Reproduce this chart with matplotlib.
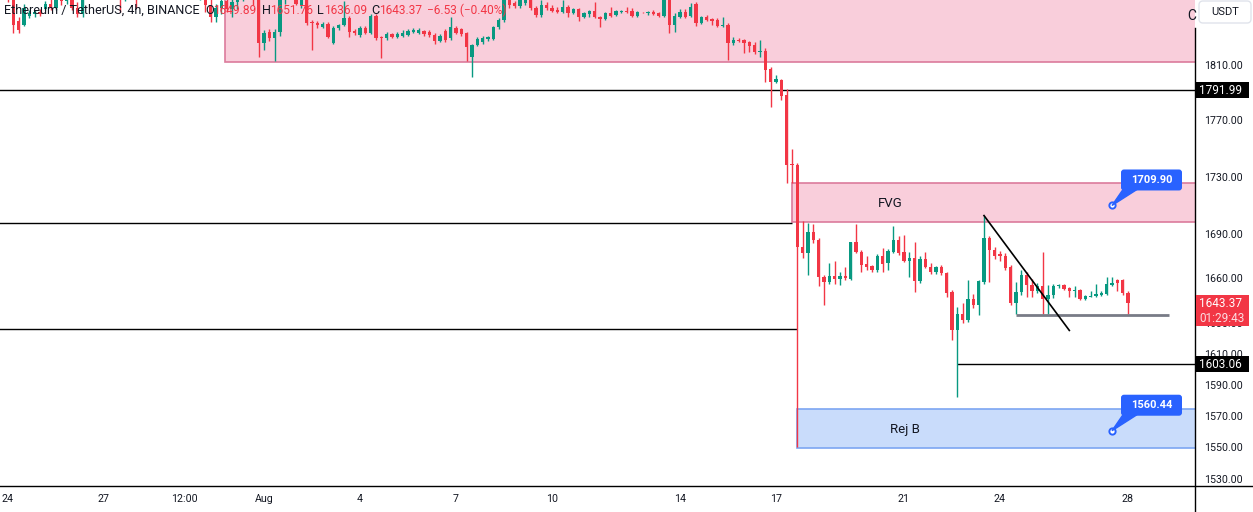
import matplotlib
matplotlib.use("Agg")
import matplotlib.pyplot as plt
import matplotlib.dates as mdates
import matplotlib.transforms as mtransforms
from matplotlib.patches import Rectangle, FancyBboxPatch, Polygon
from matplotlib.lines import Line2D
from matplotlib.ticker import FixedLocator, NullLocator
import pandas as pd

plt.rcParams['font.family'] = ['Roboto', 'DejaVu Sans']

# ETHUSDT 4h candles, 24 Jul -> 28 Aug
opens = [1874, 1862, 1843, 1840, 1847, 1848, 1850, 1852, 1856, 1853, 1864, 1858,
         1866, 1853, 1848, 1864, 1868, 1870, 1866, 1871, 1880, 1874, 1862, 1870,
         1875, 1866, 1872, 1878, 1884, 1880, 1876, 1879, 1882, 1877, 1870, 1873,
         1866, 1868, 1855, 1846, 1853, 1858, 1852, 1857, 1862, 1866, 1864, 1862,
         1826.6, 1834.6, 1830.2, 1834.6, 1860, 1868, 1865, 1855, 1862, 1842.4, 1841.4, 1838.4,
         1840.6, 1826.6, 1837.8, 1840, 1845.2, 1835.5, 1832.4, 1837.8, 1834, 1846.7, 1831, 1830.1,
         1833.1, 1830.8, 1831.6, 1832.4, 1834.8, 1834, 1835.5, 1834.8, 1832.4, 1828, 1835.5, 1830,
         1838, 1837, 1833.9, 1816.1, 1825.2, 1827.4, 1829.6, 1829.6, 1838.4, 1843.7, 1862, 1856.4,
         1854.2, 1856.4, 1860, 1852.7, 1847.5, 1855, 1852.7, 1851.2, 1849.7, 1853.5, 1849, 1852,
         1846, 1848.2, 1850.5, 1846, 1844.5, 1849, 1847.5, 1849.7, 1850.5, 1850.5, 1846.7, 1849.7,
         1849, 1849.7, 1849, 1846.7, 1862, 1840, 1846, 1849.7, 1846.7, 1855.7, 1841.4, 1846,
         1844.5, 1843.7, 1839.2, 1840, 1826.6, 1828.9, 1828.9, 1827.4, 1825.2, 1820, 1820.7, 1807.6,
         1798.1, 1799.6, 1788, 1738.9, 1738.4, 1681.5, 1676.9, 1691.3, 1685.8, 1661.1, 1657.7, 1661.8,
         1659.4, 1661.8, 1659.4, 1684.4, 1678.2, 1670, 1668.6, 1665.8, 1675.5, 1670.7, 1678.2, 1685.8,
         1677.6, 1672.1, 1673.6, 1658.1, 1672.9, 1668, 1664, 1667.5, 1663.4, 1650.7, 1625.3, 1636,
         1632, 1646.1, 1642, 1657.4, 1687.8, 1679.6, 1676.2, 1675.5, 1668, 1643.4, 1650.7, 1662,
         1655.4, 1651.4, 1654.8, 1646.1, 1648.8, 1654.8, 1655.4, 1653.5, 1651.4, 1652.1, 1646.1, 1647.8,
         1648.1, 1648.8, 1649.4, 1655.4, 1658.8, 1658.8, 1649.89]
highs = [1880, 1865, 1846, 1856, 1851, 1851, 1852, 1858, 1860, 1866, 1869, 1868,
         1870, 1857, 1866, 1872, 1874, 1876, 1872, 1884, 1886, 1880, 1872, 1878,
         1880, 1876, 1880, 1887, 1890, 1885, 1882, 1886, 1888, 1882, 1876, 1878,
         1872, 1872, 1862, 1856, 1862, 1864, 1860, 1866, 1870, 1872, 1868, 1866,
         1836.3, 1837, 1837, 1866, 1872, 1874, 1869, 1866, 1868, 1843.7, 1843, 1842,
         1842, 1839, 1841, 1858, 1847, 1837, 1839, 1839, 1848, 1848, 1832, 1834.5,
         1834, 1834.5, 1836, 1837, 1838, 1837.5, 1836.5, 1836, 1834, 1833, 1837, 1846,
         1839.5, 1838, 1835, 1826, 1831, 1832, 1832, 1839, 1845, 1866, 1866, 1858,
         1862, 1864, 1864, 1854, 1858.7, 1857, 1855, 1853.5, 1858.7, 1855, 1853, 1853,
         1850, 1851.5, 1857, 1847, 1849.7, 1853.5, 1851, 1851.2, 1853.5, 1852.7, 1850.5, 1850,
         1850.2, 1851.2, 1849.5, 1868, 1866, 1849, 1852, 1852, 1856.4, 1857, 1846.7, 1847.5,
         1845.2, 1845.2, 1846, 1841.4, 1831, 1830, 1829.5, 1828, 1827, 1828.9, 1823, 1809,
         1803, 1800.3, 1793, 1749.5, 1740, 1699.5, 1698.1, 1697.4, 1687.8, 1662, 1670.7, 1671.6,
         1664, 1667.5, 1685, 1697.4, 1679, 1675.5, 1669.3, 1676.5, 1680.3, 1680, 1695.4, 1688.5,
         1689.2, 1678.2, 1684.4, 1675, 1678.2, 1670.7, 1668.5, 1668.9, 1664, 1652, 1640.7, 1643.4,
         1658.8, 1649.4, 1659, 1702.9, 1689, 1681, 1678.9, 1677, 1669, 1657.4, 1665.5, 1664.5,
         1659.4, 1656.7, 1677.6, 1655.4, 1656, 1656.1, 1656.1, 1654, 1654.8, 1653, 1649, 1651.4,
         1656.1, 1651.4, 1660.8, 1660.8, 1659.4, 1659.4, 1651.76]
lows = [1857, 1834, 1834, 1839, 1845, 1846, 1847, 1851, 1851, 1851, 1855, 1856,
        1851, 1846, 1846, 1860, 1862, 1864, 1860, 1868, 1870, 1850, 1858, 1866,
        1853, 1862, 1868, 1874, 1876, 1872, 1868, 1874, 1874, 1866, 1862, 1862,
        1859, 1850, 1842, 1842, 1848, 1850, 1846, 1852, 1858, 1860, 1855, 1816.1,
        1821.5, 1828, 1813.5, 1832, 1856, 1862, 1855, 1853, 1840, 1821.5, 1838, 1837.6,
        1830, 1826, 1836, 1839, 1831, 1832.4, 1831, 1833, 1833, 1829, 1815.8, 1829,
        1830, 1830, 1831, 1831.6, 1834, 1833, 1832, 1831, 1826, 1827, 1827, 1829,
        1833, 1832, 1813.5, 1801.5, 1824, 1826, 1828, 1829, 1837, 1842, 1853, 1852.7,
        1853, 1855, 1851, 1846, 1846, 1851, 1849.7, 1849, 1849, 1846, 1848, 1843,
        1845, 1846, 1845, 1838.4, 1843.7, 1846, 1846.7, 1849, 1849, 1846, 1846, 1849,
        1847.5, 1847.5, 1846, 1846, 1834, 1835, 1845, 1845, 1846, 1839, 1840.6, 1843,
        1840, 1838.4, 1838.4, 1814.2, 1825, 1827.4, 1819.2, 1820, 1818.5, 1816.1, 1798.1, 1779.7,
        1797.4, 1784.5, 1725.7, 1725.7, 1550.4, 1673.6, 1662.5, 1684, 1654.8, 1642, 1656, 1656,
        1655.4, 1659, 1658.8, 1677, 1664.5, 1665.8, 1664.5, 1664.5, 1664.5, 1665.8, 1677, 1676,
        1671.4, 1661.1, 1650.7, 1657, 1667, 1662.8, 1663, 1662, 1647.4, 1619.2, 1581.8, 1630,
        1631, 1640, 1635.3, 1656, 1657.4, 1672.9, 1672.1, 1666, 1642, 1636, 1649, 1647.4,
        1647.4, 1650, 1636, 1636, 1647, 1653.5, 1652, 1647.4, 1647.4, 1645.4, 1645.5, 1647.5,
        1647.5, 1648, 1649, 1655, 1651.4, 1648.8, 1636.09]
closes = [1862, 1840, 1836, 1853, 1849, 1850, 1848, 1856, 1853, 1864, 1858, 1866,
          1853, 1848, 1864, 1868, 1870, 1866, 1871, 1880, 1874, 1862, 1870, 1875,
          1866, 1872, 1878, 1884, 1880, 1876, 1879, 1882, 1877, 1870, 1873, 1866,
          1868, 1855, 1846, 1853, 1858, 1852, 1857, 1862, 1866, 1864, 1860, 1826.6,
          1833.9, 1830.2, 1834.6, 1860, 1868, 1865, 1856, 1862, 1841.4, 1841.2, 1839.9, 1840.6,
          1831.1, 1837.8, 1840, 1845.2, 1834.8, 1834, 1837.8, 1834, 1846.7, 1830.1, 1830.1, 1833.1,
          1830.8, 1833.1, 1833.9, 1835.5, 1836.3, 1836.3, 1833.1, 1832.4, 1827.8, 1831.6, 1828.9, 1838.4,
          1834, 1833.1, 1823.6, 1825.2, 1829.6, 1830.2, 1831, 1838.4, 1843.7, 1860, 1855, 1854.2,
          1858.7, 1860, 1852.7, 1847.5, 1855, 1852.7, 1850.5, 1849.7, 1853.5, 1849, 1852, 1846,
          1849, 1850.5, 1846, 1844.5, 1849, 1846.7, 1850.5, 1850.5, 1849.7, 1846.7, 1849.7, 1849.3,
          1849.7, 1848.2, 1846.7, 1860, 1840, 1846.7, 1849.7, 1846, 1853.5, 1841.4, 1846, 1843.7,
          1843, 1839.2, 1840, 1826.6, 1828.9, 1828.1, 1826.6, 1824.4, 1820, 1820.7, 1806.9, 1798.1,
          1800.3, 1787.3, 1738.4, 1738.4, 1681.5, 1676.9, 1691.3, 1685.8, 1661.1, 1657.7, 1661.8, 1659.4,
          1661.8, 1660.1, 1684.4, 1678.2, 1669.3, 1667.9, 1665.8, 1675.5, 1670, 1678.9, 1685.8, 1676.9,
          1672.1, 1673.6, 1658.1, 1672.9, 1668, 1664, 1667.5, 1663.4, 1650, 1625.3, 1636, 1632,
          1646.1, 1642, 1658.1, 1687.8, 1679.6, 1675.5, 1675.5, 1667.3, 1643.4, 1650.7, 1662, 1655.4,
          1651.4, 1654.8, 1646.1, 1648.8, 1654.8, 1655.4, 1652.7, 1651.4, 1652.1, 1646.1, 1648.1, 1648.4,
          1649.4, 1650, 1656.1, 1656.7, 1656.7, 1649.89, 1643.37]

times = pd.date_range('2023-07-24 00:00', periods=len(opens), freq='4h')

price_ticks = [1530, 1550, 1570, 1590, 1610, 1630, 1660, 1690, 1730, 1770, 1810]
date_ticks = ['2023-07-24 00:00', '2023-07-27 00:00', '2023-07-29 12:00', '2023-08-01 00:00',
              '2023-08-04 00:00', '2023-08-07 00:00', '2023-08-10 00:00', '2023-08-14 00:00',
              '2023-08-17 00:00', '2023-08-21 00:00', '2023-08-24 00:00', '2023-08-28 00:00']
date_labels = ['24', '27', '12:00', 'Aug', '4', '7', '10', '14', '17', '21', '24', '28']

# drawn zones and levels
supply_start, supply_top, supply_bottom = '2023-07-30 18:45', 1900, 1812.7
fvg_start, fvg_top, fvg_bottom = '2023-08-17 11:45', 1725.5, 1698.8
rej_start, rej_top, rej_bottom = '2023-08-17 15:45', 1574.3, 1549.6
level_high = 1791.99
level_fvg = 1698.0
level_mid = 1626.0
level_low, level_low_start = 1603.06, '2023-08-22 16:00'
range_low, range_start, range_end = 1635.3, '2023-08-24 12:00', '2023-08-29 07:00'
trend_x = ['2023-08-23 12:00', '2023-08-26 04:00']
trend_y = [1702.9, 1625.3]
callouts = [('2023-08-27 12:00', 1709.90), ('2023-08-27 12:00', 1560.44)]
zone_labels = [('2023-08-20 14:00', 1711.5, 'FVG'), ('2023-08-21 00:30', 1561.5, 'Rej B')]

GREEN = '#089981'
RED = '#f23645'
BLUE = '#2962ff'
INK = '#131722'
W, H = 1253, 512


def dn(t):
    return mdates.date2num(pd.Timestamp(t))


fig = plt.figure(figsize=(W / 100, H / 100), dpi=100)
ax = fig.add_axes([0, 26 / H, 1195 / W, 486 / H])
ax.set_yscale('log')
ax.set_ylim(1525.8, 1858.7)
ax.set_xlim(dn('2023-07-23 18:00'), dn('2023-08-30 02:15'))

x = mdates.date2num(times)
left_edge = dn('2023-07-20')
right_edge = dn('2023-09-05')

# zones
for start, top, bottom, fc, ec in [(supply_start, supply_top, supply_bottom, '#f9cedb', '#dc7b9c'),
                                   (fvg_start, fvg_top, fvg_bottom, '#f9cedb', '#dc7b9c'),
                                   (rej_start, rej_top, rej_bottom, '#c9dcfb', '#7da6f2')]:
    ax.add_patch(Rectangle((dn(start), bottom), right_edge - dn(start), top - bottom,
                           fc=fc, ec=ec, lw=1.2, zorder=1))

# levels
ax.axhline(level_high, color='black', lw=1, zorder=2)
ax.hlines(level_fvg, left_edge, dn(fvg_start), color='black', lw=1, zorder=2)
ax.hlines(level_mid, left_edge, dn(rej_start), color='black', lw=1, zorder=2)
ax.hlines(level_low, dn(level_low_start), right_edge, color='black', lw=1, zorder=2)

# candles
colors = [GREEN if c >= o else RED for o, c in zip(opens, closes)]
ax.vlines(x, lows, highs, colors=colors, lw=1, zorder=3)
bottoms = [min(o, c) for o, c in zip(opens, closes)]
heights = [max(abs(c - o), 0.7) for o, c in zip(opens, closes)]
ax.bar(x, heights, bottom=bottoms, width=0.1, color=colors, lw=0, zorder=3)

ax.hlines(range_low, dn(range_start), dn(range_end), color='#787b86', lw=2, zorder=4)
ax.plot([dn(t) for t in trend_x], trend_y, color='black', lw=1.2, zorder=4)

for t, p, txt in zone_labels:
    ax.text(dn(t), p, txt, fontsize=9.5, color=INK, ha='center', va='center', zorder=5)

# axes look
for s in ax.spines.values():
    s.set_visible(False)
ax.yaxis.tick_right()
ax.yaxis.set_major_locator(FixedLocator(price_ticks))
ax.yaxis.set_minor_locator(NullLocator())
ax.set_yticklabels(['%.2f' % p for p in price_ticks])
ax.xaxis.set_major_locator(FixedLocator([dn(t) for t in date_ticks]))
ax.xaxis.set_minor_locator(NullLocator())
ax.set_xticklabels(date_labels)
ax.tick_params(axis='y', length=0, pad=6.5, labelsize=7.7, labelcolor=INK)
ax.tick_params(axis='x', length=0, pad=6, labelsize=7.7, labelcolor=INK)

fig.canvas.draw()
pix = mtransforms.Affine2D().scale(1 / W, -1 / H).translate(0, 1) + fig.transFigure


def px_of(t, price):
    dx, dy = ax.transData.transform((dn(t), price))
    return dx, H - dy


fig.add_artist(Line2D([0, W], [486, 486], color='black', lw=1, transform=pix))
fig.add_artist(Line2D([1195, 1195], [28, H], color='black', lw=1, transform=pix))


def price_tag(price, text, fc, sub=None):
    _, y = px_of(times[0], price)
    h = 16 if sub is None else 31
    fig.add_artist(Rectangle((1196, y - 8), 53, h, fc=fc, ec='none', transform=pix, zorder=6))
    fig.text(1199, y, text, color='white', fontsize=8.5, va='center', ha='left',
             transform=pix, zorder=7)
    if sub:
        fig.text(1199, y + 15, sub, color='#fbdde0', fontsize=8.5, va='center', ha='left',
                 transform=pix, zorder=7)


price_tag(level_high, '1791.99', 'black')
price_tag(level_low, '1603.06', 'black')
price_tag(closes[-1], '%.2f' % closes[-1], RED, sub='01:29:43')

# callouts
for t, p in callouts:
    dx, dy = px_of(t, p)
    bx, by = dx + 9, dy - 36
    fig.add_artist(Polygon([(dx, dy), (bx + 2, by + 20), (bx + 16, by + 20)], closed=True,
                           fc=BLUE, ec=BLUE, lw=1, transform=pix, zorder=6))
    fig.add_artist(FancyBboxPatch((bx, by), 61, 21, boxstyle='round,pad=0,rounding_size=3',
                                  fc=BLUE, ec='none', transform=pix, zorder=6))
    fig.text(bx + 30.5, by + 10.5, '%.2f' % p, color='white', fontsize=8, fontweight='bold',
             ha='center', va='center', transform=pix, zorder=7)
    ax.plot(dn(t), p, 'o', ms=4.5, mfc='white', mec=BLUE, mew=1.4, zorder=7, clip_on=False)

# header
fig.add_artist(FancyBboxPatch((1199, 1), 52, 22, boxstyle='round,pad=0,rounding_size=4',
                              fc='white', ec='#e0e3eb', lw=1, transform=pix, zorder=6))
fig.text(1225, 12, 'USDT', color=INK, fontsize=8, ha='center', va='center', transform=pix, zorder=7)
fig.text(1196, 16, 'C', color=INK, fontsize=10, ha='right', va='center', transform=pix, zorder=7)

header = [(4, 'Ethereum / TetherUS, 4h, BINANCE', INK, 9.1), (205, 'O', INK, 9.1),
          (213, '1649.89', RED, 8.6), (262, 'H', INK, 9.1), (270, '1651.76', RED, 8.6),
          (317, 'L', INK, 9.1), (324, '1636.09', RED, 8.6), (371, 'C', INK, 9.1),
          (379, '1643.37', RED, 8.6), (427, '\u22126.53 (\u22120.40%)', RED, 8.6)]
for hx, txt, col, fs in header:
    fig.text(hx, 10, txt, color=col, fontsize=fs, ha='left', va='center', transform=pix, zorder=7)

fig.savefig('out.png', dpi=100, facecolor='white')
